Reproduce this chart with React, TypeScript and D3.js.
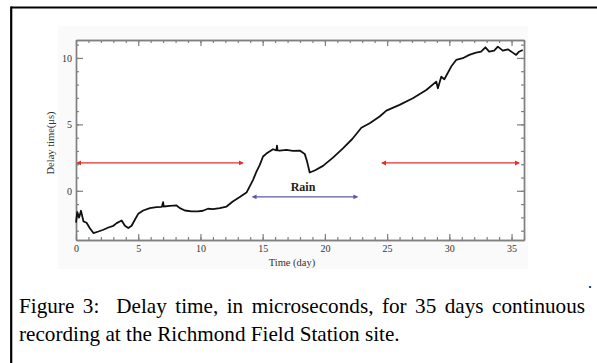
import { useEffect, useRef } from "react";
import * as d3 from "d3";

// delay time readings (day, microseconds)
const days = [
  0.0, 0.1, 0.25, 0.4, 0.6, 0.85, 1.1, 1.4, 1.8, 2.2, 2.6, 3.0, 3.27, 3.67, 3.93, 4.2, 4.47, 4.73,
  5.0, 5.4, 5.94, 6.47, 6.9, 7.0, 7.05, 7.54, 8.08, 8.35, 8.75, 9.29, 9.8, 10.2, 10.6, 11.0, 11.56,
  12.1, 12.6, 13.16, 13.7, 14.23, 14.5, 14.77, 15.03, 15.3, 15.83, 16.1, 16.15, 16.2, 16.37, 16.9,
  17.44, 17.98, 18.38, 18.57, 18.78, 19.18, 19.85, 20.65, 21.45, 22.2, 22.93, 23.6, 24.4, 24.94,
  26.0, 27.07, 28.15, 28.95, 29.08, 29.35, 29.6, 30.15, 30.55, 31.08, 31.6, 32.15, 32.55, 32.9,
  33.2, 33.6, 33.9, 34.3, 34.7, 35.1, 35.37, 35.6, 35.9,
];
const delay = [
  -2.4, -1.6, -2.0, -1.5, -2.3, -2.4, -2.8, -3.18, -3.06, -2.93, -2.76, -2.63, -2.43, -2.23, -2.63,
  -2.8, -2.63, -2.18, -1.73, -1.48, -1.3, -1.23, -1.2, -0.85, -1.18, -1.13, -1.1, -1.3, -1.48,
  -1.55, -1.55, -1.5, -1.35, -1.38, -1.3, -1.18, -0.8, -0.47, -0.13, 0.83, 1.45, 1.95, 2.58, 2.8,
  3.13, 3.05, 3.4, 3.05, 3.03, 3.08, 3.0, 3.03, 2.78, 2.2, 1.38, 1.53, 1.88, 2.5, 3.2, 3.9, 4.75,
  5.09, 5.59, 6.04, 6.47, 6.97, 7.59, 8.22, 7.72, 8.59, 8.4, 9.35, 9.85, 9.98, 10.23, 10.4, 10.47,
  10.8, 10.47, 10.55, 10.85, 10.55, 10.65, 10.4, 10.23, 10.47, 10.6,
];

const xMajor = [0, 5, 10, 15, 20, 25, 30, 35];
const yMajor = [0, 5, 10];

// annotation arrows: [startDay, endDay, level]
const redArrows = [
  [0.1, 13.4, 2.1],
  [24.6, 35.6, 2.1],
];
const rainArrow = [14.2, 22.6, -0.45];

const W = 597;
const H = 363;
const left = 76;
const right = 524;
const top = 40;
const bottom = 240;

const serif = "'Liberation Serif', 'Times New Roman', serif";

export default function App() {
  const ref = useRef<SVGGElement>(null);

  const x = d3.scaleLinear().domain([0, 36]).range([left, right]);
  const y = d3.scaleLinear().domain([-3.7, 11.35]).range([bottom, top]);

  useEffect(() => {
    const g = d3.select(ref.current);
    g.selectAll("*").remove();

    const minorX = d3.range(0, 37);
    const minorY = d3.range(-3, 12);

    const addAxis = (axis: any, tf: string) => {
      const a = g.append("g").attr("transform", tf).call(axis);
      a.selectAll("path").attr("stroke", "#808080").attr("stroke-width", 1.4);
      a.selectAll("line").attr("stroke", "#808080").attr("stroke-width", 1.2);
      a.selectAll("text").attr("fill", "#333").attr("font-family", serif).attr("font-size", 10);
      return a;
    };

    // bottom
    addAxis(d3.axisBottom(x).tickValues(minorX).tickSize(-3).tickFormat(() => "").tickSizeOuter(0), `translate(0,${bottom})`);
    addAxis(
      d3.axisBottom(x).tickValues(xMajor).tickSize(-6).tickPadding(5).tickSizeOuter(0),
      `translate(0,${bottom})`
    );
    // top
    addAxis(d3.axisTop(x).tickValues(minorX).tickSize(-3).tickFormat(() => "").tickSizeOuter(0), `translate(0,${top})`);
    addAxis(d3.axisTop(x).tickValues(xMajor).tickSize(-6).tickFormat(() => "").tickSizeOuter(0), `translate(0,${top})`);
    // left
    addAxis(d3.axisLeft(y).tickValues(minorY).tickSize(-3).tickFormat(() => "").tickSizeOuter(0), `translate(${left},0)`);
    addAxis(
      d3.axisLeft(y).tickValues(yMajor).tickSize(-7).tickPadding(4).tickSizeOuter(0),
      `translate(${left},0)`
    );
    // right
    addAxis(d3.axisRight(y).tickValues(minorY).tickSize(-3).tickFormat(() => "").tickSizeOuter(0), `translate(${right},0)`);
    addAxis(d3.axisRight(y).tickValues(yMajor).tickSize(-7).tickFormat(() => "").tickSizeOuter(0), `translate(${right},0)`);
  }, []);

  const pts = days.map((d, i) => [d, delay[i]] as [number, number]);
  const line = d3
    .line<[number, number]>()
    .x((d) => x(d[0]))
    .y((d) => y(d[1]));

  return (
    <svg width={W} height={H} style={{ position: "absolute", left: 0, top: 0, background: "#fff" }}>
      <defs>
        <marker id="red" viewBox="0 0 10 10" refX="8" refY="5" markerWidth="4" markerHeight="4" orient="auto-start-reverse">
          <path d="M0,0L10,5L0,10z" fill="#e0302c" />
        </marker>
        <marker id="blue" viewBox="0 0 10 10" refX="8" refY="5" markerWidth="4" markerHeight="4" orient="auto-start-reverse">
          <path d="M0,0L10,5L0,10z" fill="#5a5aa8" />
        </marker>
      </defs>

      {/* outer frame */}
      <line x1={11} y1={7.5} x2={W} y2={7.5} stroke="#000" strokeWidth={2.2} />
      <line x1={11.2} y1={6.4} x2={11.2} y2={H} stroke="#000" strokeWidth={2.2} />

      <rect x={58} y={26} width={470} height={243} fill="#fafafa" />
      <rect x={left} y={top} width={right - left} height={bottom - top} fill="#fff" />

      <g ref={ref} />

      <path d={line(pts) || ""} fill="none" stroke="#111" strokeWidth={1.8} strokeLinejoin="round" />

      {redArrows.map((a, i) => (
        <line
          key={i}
          x1={x(a[0])}
          x2={x(a[1])}
          y1={y(a[2])}
          y2={y(a[2])}
          stroke="#e0302c"
          strokeWidth={1.3}
          markerStart="url(#red)"
          markerEnd="url(#red)"
        />
      ))}
      <line
        x1={x(rainArrow[0])}
        x2={x(rainArrow[1])}
        y1={y(rainArrow[2])}
        y2={y(rainArrow[2])}
        stroke="#5a5aa8"
        strokeWidth={1.2}
        markerStart="url(#blue)"
        markerEnd="url(#blue)"
      />
      <text x={303} y={191} textAnchor="middle" fontFamily={serif} fontWeight="bold" fontSize={12} fill="#222">
        Rain
      </text>

      <text x={292} y={266} textAnchor="middle" fontFamily={serif} fontSize={10.5} fill="#333">
        Time (day)
      </text>
      <text transform="translate(54,143) rotate(-90)" textAnchor="middle" fontFamily={serif} fontSize={10.5} fill="#333">
        Delay time(μs)
      </text>

      <text x={590} y={288} textAnchor="middle" fontFamily={serif} fontSize={16}>
        .
      </text>

      <g transform="translate(19,0) scale(1.06,1)">
        <text x={0} y={313} fontFamily={serif} fontSize={20} wordSpacing={3} fill="#000" style={{ whiteSpace: "pre" }}>
          {"Figure 3:  Delay time, in microseconds, for 35 days continuous"}
        </text>
        <text x={0} y={341} fontFamily={serif} fontSize={20} fill="#000">
          recording at the Richmond Field Station site.
        </text>
      </g>
    </svg>
  );
}
